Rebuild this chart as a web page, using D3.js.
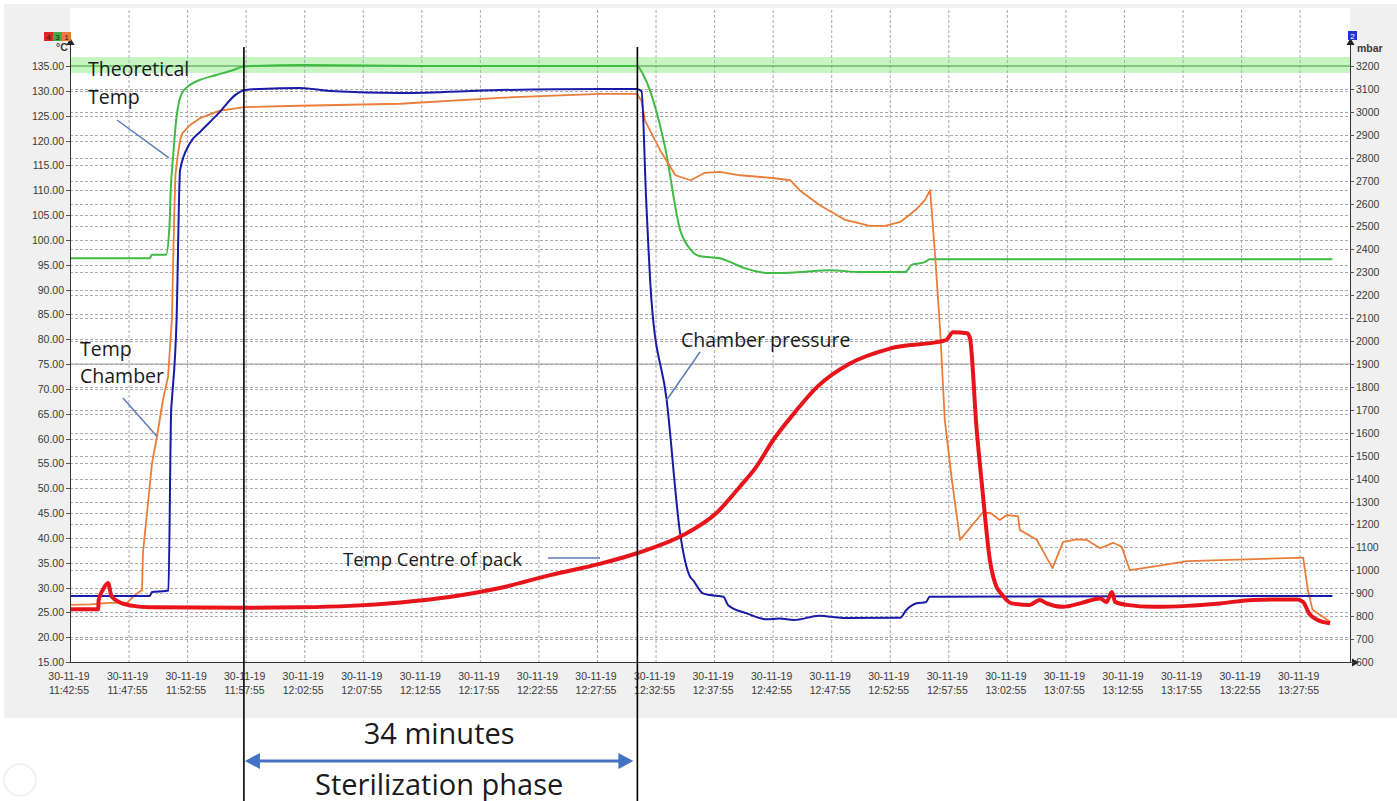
<!DOCTYPE html>
<html>
<head>
<meta charset="utf-8">
<script src="https://cdn.jsdelivr.net/npm/d3@7"></script>
<style>
  body { margin: 0; background: #fff; }
  svg { display: block; }
  .tick-label { font-family: "Liberation Sans", Arial, sans-serif; font-size: 10.5px; fill: #3a3a3a; }
  .note { font-family: "Open Sans", sans-serif; fill: #1a1a1a; }
</style>
</head>
<body>
<div id="chart"></div>
<script>
// minutes elapsed since 30-11-19 11:42:55
var startTime = new Date(2019, 10, 30, 11, 42, 55);
var endMinutes = 109.3;

// Theoretical Temp (°C)
var theoreticalTemp = [
  [0, 96.3], [6.8, 96.3], [7.0, 97.0], [8.2, 97.0], [8.5, 103], [8.6, 110], [8.8, 116.7],
  [9.1, 124.8], [9.55, 129.5], [10.25, 131.2], [11.1, 132.2], [12.5, 133.2], [13.95, 134.2],
  [14.8, 134.9], [15.5, 135.0], [20, 135.2], [30, 135.0], [48.4, 135.0], [49.0, 133],
  [50.8, 118.8], [52.1, 102], [53.0, 98], [53.8, 96.7], [55.5, 96.3], [56.4, 95.5],
  [57.6, 94.3], [59.8, 93.3], [62.3, 93.5], [64.9, 93.9], [67.5, 93.5], [71.3, 93.5],
  [71.9, 95.0], [73.0, 95.5], [73.4, 96.1], [107.8, 96.1]
];

// Temp Chamber (°C)
var chamberTemp = [
  [0, 26.5], [1.7, 26.6], [3.4, 26.9], [4.87, 26.9], [5.55, 28.5], [6.15, 29.5], [6.23, 37],
  [6.66, 47], [7.0, 55], [7.43, 60.4], [7.94, 67.8], [8.37, 72.4], [8.7, 84], [8.9, 105],
  [9.0, 113], [9.2, 117], [9.4, 120], [9.6, 121.5], [10.2, 123], [11.1, 124.5], [12.8, 126],
  [14.9, 126.7], [19.6, 127], [28.2, 127.4], [36.7, 128.6], [45.3, 129.4], [48.4, 129.4],
  [48.8, 128], [49.1, 124], [50.4, 118], [51.7, 113], [53.0, 112], [54.2, 113.5],
  [55.5, 113.7], [57.2, 113], [59.8, 112.5], [61.5, 112], [62.3, 110], [64.0, 107],
  [66.2, 104], [68.3, 102.8], [69.6, 102.8], [70.9, 103.6], [72.2, 106], [73.0, 108],
  [73.45, 110], [73.9, 96], [74.3, 81.8], [74.7, 63.7], [75.3, 51.7], [76.0, 39.6],
  [77.9, 45], [78.6, 45], [79.4, 43.6], [80.0, 44.6], [80.96, 44.3], [81.1, 41.6],
  [82.55, 39.6], [83.9, 33.9], [84.8, 39.2], [85.97, 39.7], [86.8, 39.6], [87.96, 37.9],
  [89.07, 39], [89.8, 38.2], [90.5, 33.5], [92.5, 34.2], [95.4, 35.3], [105.3, 36],
  [105.7, 29.5], [106.1, 25.5], [107.6, 23.1]
];

// Chamber pressure (mbar)
var chamberPressure = [
  [0, 888], [6.8, 888], [7.0, 905], [8.2, 910], [8.4, 912], [8.64, 1700], [8.7, 1743],
  [9.1, 2092], [9.4, 2746], [10.25, 2864], [11.1, 2912], [11.95, 2956], [12.8, 3000],
  [14.1, 3073], [14.95, 3095], [16.2, 3100], [19.65, 3104], [22.2, 3091], [28.2, 3082],
  [36.7, 3095], [45.3, 3100], [48.4, 3100], [48.8, 3090], [49.2, 2615], [49.65, 2179],
  [50.95, 1743], [52.1, 1161], [52.95, 972], [53.2, 957], [54.05, 899], [54.65, 892],
  [55.8, 885], [56.2, 848], [57.8, 812], [59.5, 786], [60.6, 790], [61.8, 783],
  [64.0, 802], [66.0, 792], [70.9, 793], [71.4, 826], [72.3, 856], [73.1, 862],
  [73.4, 885], [107.8, 888]
];

// Temp Centre of pack (°C)
var packTemp = [
  [0, 25.6], [2.4, 25.6], [2.45, 27.5], [2.8, 29.5], [3.25, 30.9], [3.55, 28.2], [4.27, 27],
  [5.4, 26.3], [6.8, 26], [14.9, 25.9], [19.65, 26], [23.9, 26.3], [28.2, 27], [32.4, 28.1],
  [36.7, 29.9], [41.0, 32.5], [45.3, 34.8], [48.4, 36.9], [52.4, 40.6], [55.2, 45],
  [57.2, 50.3], [58.6, 54.3], [60.05, 59.7], [61.8, 65], [63.8, 70.4], [66.6, 75.1],
  [70.0, 78.1], [74.8, 79.8], [75.4, 81.4], [76.6, 81.2], [76.85, 80.2], [77.4, 62.4],
  [77.9, 50], [78.55, 35.5], [79.1, 30.2], [79.5, 28.8], [80.4, 26.8], [81.95, 26.5],
  [82.8, 27.5], [83.4, 26.8], [84.8, 26.1], [86.25, 26.8], [87.96, 27.8], [88.5, 27.1],
  [88.97, 29.1], [89.25, 27.1], [90.24, 26.5], [92.5, 26.1], [95.4, 26.3], [98.2, 26.8],
  [101.05, 27.5], [104.8, 27.6], [105.3, 27.1], [105.8, 24.8], [106.5, 23.5], [107.6, 22.8]
];

var tempTicks = d3.range(15, 136, 5);
var pressureTicks = d3.range(600, 3201, 100);
var timeTicks = d3.range(0, 106, 5);
var phaseStart = 14.85, phaseEnd = 48.45;   // sterilization phase, minutes
var setpointBand = [133.6, 136.8];
var limitTemp = 75;

var W = 1397, H = 801;
var plotLeft = 70, plotRight = 1350, plotTop = 66, plotBottom = 662;

var svg = d3.select("#chart").append("svg").attr("width", W).attr("height", H);

var toDate = function(m) { return new Date(startTime.getTime() + m * 60000); };

var x = d3.scaleTime().domain([startTime, toDate(endMinutes)]).range([plotLeft, plotRight]);
var yT = d3.scaleLinear().domain([15, 135]).range([plotBottom, plotTop]);
var yP = d3.scaleLinear().domain([600, 3200]).range([plotBottom, plotTop]);

// panel backgrounds
svg.append("rect").attr("x", 4).attr("y", 4).attr("width", W - 4).attr("height", 714).attr("fill", "#f0f0f0");
svg.append("rect").attr("x", plotLeft).attr("y", 8).attr("width", plotRight - plotLeft).attr("height", plotBottom - 8).attr("fill", "#fff");

// setpoint band
svg.append("rect")
  .attr("x", plotLeft).attr("width", plotRight - plotLeft)
  .attr("y", yT(setpointBand[1])).attr("height", yT(setpointBand[0]) - yT(setpointBand[1]))
  .attr("fill", "#b9f2b3").attr("opacity", 0.8);

// grid
var grid = svg.append("g").attr("stroke", "#aaa").attr("stroke-dasharray", "3,2").attr("stroke-width", 1);
grid.selectAll(".gv").data(timeTicks.slice(1)).enter().append("line")
  .attr("x1", d => x(toDate(d)) + 0.5).attr("x2", d => x(toDate(d)) + 0.5)
  .attr("y1", 10).attr("y2", plotBottom);
grid.selectAll(".gt").data(tempTicks.filter(d => d > 15 && d < 135)).enter().append("line")
  .attr("x1", plotLeft).attr("x2", plotRight)
  .attr("y1", d => Math.round(yT(d)) + 0.5).attr("y2", d => Math.round(yT(d)) + 0.5);
grid.selectAll(".gp").data(pressureTicks.filter(d => d > 600 && d < 3200)).enter().append("line")
  .attr("x1", plotLeft).attr("x2", plotRight)
  .attr("y1", d => Math.round(yP(d)) + 0.5).attr("y2", d => Math.round(yP(d)) + 0.5);

// limit line and setpoint line
svg.append("line").attr("x1", plotLeft).attr("x2", plotRight)
  .attr("y1", yT(limitTemp)).attr("y2", yT(limitTemp)).attr("stroke", "#9a9a9a").attr("stroke-width", 1);
svg.append("line").attr("x1", plotLeft).attr("x2", plotRight)
  .attr("y1", yT(135)).attr("y2", yT(135)).attr("stroke", "#3e9a3a").attr("stroke-width", 1);

// series
var lineT = d3.line().x(d => x(toDate(d[0]))).y(d => yT(d[1]));
var smoothT = d3.line().curve(d3.curveMonotoneX).x(d => x(toDate(d[0]))).y(d => yT(d[1]));
var smoothP = d3.line().curve(d3.curveMonotoneX).x(d => x(toDate(d[0]))).y(d => yP(d[1]));

svg.append("path").datum(theoreticalTemp).attr("d", smoothT)
  .attr("fill", "none").attr("stroke", "#3fba45").attr("stroke-width", 2).attr("stroke-linejoin", "round");
svg.append("path").datum(chamberTemp).attr("d", lineT)
  .attr("fill", "none").attr("stroke", "#ea7d3a").attr("stroke-width", 1.8).attr("stroke-linejoin", "round");
svg.append("path").datum(chamberPressure).attr("d", smoothP)
  .attr("fill", "none").attr("stroke", "#1a1aa8").attr("stroke-width", 2).attr("stroke-linejoin", "round");
svg.append("path").datum(packTemp).attr("d", smoothT)
  .attr("fill", "none").attr("stroke", "#e8141c").attr("stroke-width", 4).attr("stroke-linejoin", "round");

// axes
var axisG = svg.append("g").attr("stroke", "#333").attr("stroke-width", 1);
axisG.append("line").attr("x1", plotLeft + 0.5).attr("x2", plotLeft + 0.5).attr("y1", 42).attr("y2", plotBottom);
axisG.append("line").attr("x1", plotRight + 0.5).attr("x2", plotRight + 0.5).attr("y1", 42).attr("y2", plotBottom);
axisG.append("line").attr("x1", plotLeft).attr("x2", plotRight + 2).attr("y1", plotBottom + 0.5).attr("y2", plotBottom + 0.5);
svg.append("path").attr("d", "M" + (plotLeft + 0.5) + ",38l-4,7h8z").attr("fill", "#222");
svg.append("path").attr("d", "M" + (plotRight + 0.5) + ",38l-4,7h8z").attr("fill", "#222");
svg.append("path").attr("d", "M" + (plotRight + 9) + "," + (plotBottom + 0.5) + "l-7,-4v8z").attr("fill", "#222");

svg.selectAll(".ttick").data(tempTicks).enter().append("line")
  .attr("x1", plotLeft - 4).attr("x2", plotLeft).attr("y1", d => Math.round(yT(d)) + 0.5).attr("y2", d => Math.round(yT(d)) + 0.5)
  .attr("stroke", "#555");
svg.selectAll(".tlab").data(tempTicks).enter().append("text")
  .attr("class", "tick-label").attr("x", plotLeft - 6).attr("y", d => yT(d) + 4)
  .attr("text-anchor", "end").text(d => d3.format(".2f")(d));

svg.selectAll(".ptick").data(pressureTicks).enter().append("line")
  .attr("x1", plotRight).attr("x2", plotRight + 4).attr("y1", d => Math.round(yP(d)) + 0.5).attr("y2", d => Math.round(yP(d)) + 0.5)
  .attr("stroke", "#555");
svg.selectAll(".plab").data(pressureTicks).enter().append("text")
  .attr("class", "tick-label").attr("x", plotRight + 6).attr("y", d => yP(d) + 4)
  .text(d => d);

var fmtDate = d3.timeFormat("%d-%m-%y"), fmtTime = d3.timeFormat("%H:%M:%S");
var xl = svg.selectAll(".xlab").data(timeTicks).enter().append("text")
  .attr("class", "tick-label").attr("text-anchor", "middle")
  .attr("x", d => x(toDate(d)) - 1).attr("y", 680);
xl.append("tspan").text(d => fmtDate(toDate(d)));
xl.append("tspan").attr("x", d => x(toDate(d)) - 1).attr("dy", 14).text(d => fmtTime(toDate(d)));

svg.append("text").attr("class", "tick-label").attr("x", 56).attr("y", 51).style("font-weight", "bold").text("°C");
svg.append("text").attr("class", "tick-label").attr("x", 1357).attr("y", 52).style("font-weight", "bold").text("mbar");

// channel badges
var badges = [["4", "#e02424", 44], ["3", "#3cb044", 53], ["1", "#ef7a3a", 62]];
badges.forEach(b => {
  svg.append("rect").attr("x", b[2]).attr("y", 32).attr("width", 9).attr("height", 9).attr("fill", b[1]);
  svg.append("text").attr("x", b[2] + 4.5).attr("y", 40).attr("text-anchor", "middle")
    .style("font", "8px 'Liberation Sans'").attr("fill", "#222").text(b[0]);
});
svg.append("rect").attr("x", 1348).attr("y", 31).attr("width", 9).attr("height", 9).attr("fill", "#2233cc");
svg.append("text").attr("x", 1352.5).attr("y", 39).attr("text-anchor", "middle")
  .style("font", "8px 'Liberation Sans'").attr("fill", "#fff").text("2");

// sterilization phase markers
[phaseStart, phaseEnd].forEach(m => {
  svg.append("line").attr("x1", x(toDate(m))).attr("x2", x(toDate(m)))
    .attr("y1", 47).attr("y2", H).attr("stroke", "#000").attr("stroke-width", 1.6);
});

// annotations
var pointer = "#5b7db5";
function note(txt, px, py, size) {
  svg.append("text").attr("class", "note").attr("x", px).attr("y", py).style("font-size", size + "px").text(txt);
}
function pointerLine(x1, y1, m, v, scale) {
  svg.append("line").attr("x1", x1).attr("y1", y1)
    .attr("x2", x(toDate(m))).attr("y2", scale(v))
    .attr("stroke", pointer).attr("stroke-width", 1.5);
}
note("Theoretical", 88, 76, 19.5);
note("Temp", 88, 104, 19.5);
pointerLine(117, 120, 8.45, 116.5, yT);

note("Temp", 80, 356, 19.5);
note("Chamber", 80, 383, 19.5);
pointerLine(123, 398, 7.43, 60.4, yT);

note("Chamber pressure", 681, 347, 19.5);
pointerLine(700, 352, 50.95, 1743, yP);

note("Temp Centre of pack", 343, 566, 18.5);
svg.append("line").attr("x1", 548).attr("x2", 600).attr("y1", 558).attr("y2", 558)
  .attr("stroke", pointer).attr("stroke-width", 1.5);

// phase arrow
var ax1 = x(toDate(phaseStart)) + 1, ax2 = x(toDate(phaseEnd)) - 4, ay = 761;
svg.append("line").attr("x1", ax1 + 12).attr("x2", ax2 - 12).attr("y1", ay).attr("y2", ay)
  .attr("stroke", "#4472c4").attr("stroke-width", 3);
svg.append("path").attr("d", "M" + ax1 + "," + ay + "l15,-8v16z").attr("fill", "#4472c4");
svg.append("path").attr("d", "M" + ax2 + "," + ay + "l-15,-8v16z").attr("fill", "#4472c4");
svg.append("text").attr("class", "note").attr("x", (ax1 + ax2) / 2).attr("y", 744)
  .attr("text-anchor", "middle").style("font-size", "29px").text("34 minutes");
svg.append("text").attr("class", "note").attr("x", (ax1 + ax2) / 2).attr("y", 795)
  .attr("text-anchor", "middle").style("font-size", "29px").text("Sterilization phase");

svg.append("circle").attr("cx", 20).attr("cy", 780).attr("r", 16).attr("fill", "none").attr("stroke", "#ececec").attr("stroke-width", 1.5);
</script>
</body>
</html>
